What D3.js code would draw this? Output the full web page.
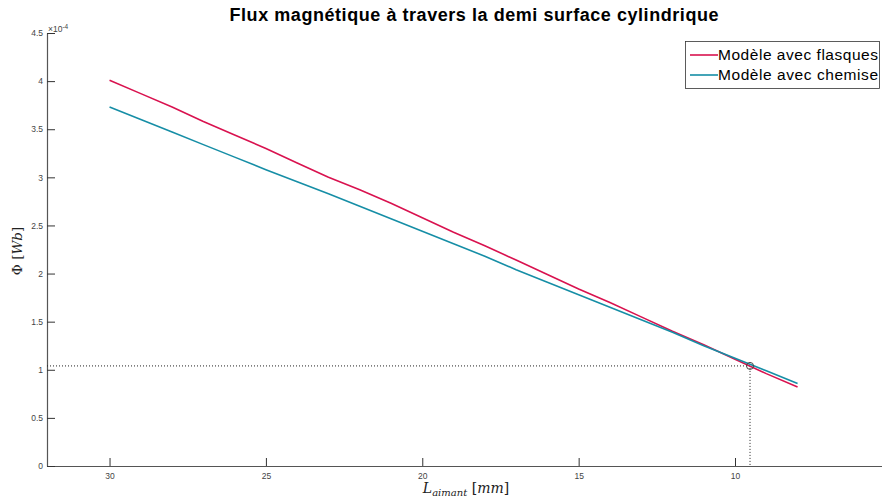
<!DOCTYPE html>
<html>
<head>
<meta charset="utf-8">
<script src="https://cdn.jsdelivr.net/npm/d3@7"></script>
<style>
  html, body { margin: 0; padding: 0; background: #fff; }
  svg { display: block; font-family: "Liberation Sans", Helvetica, Arial, sans-serif; }
</style>
</head>
<body>
<svg id="chart" width="882" height="502"></svg>
<script>
// Magnet length (mm) and magnetic flux (×1e-4 Wb) through the half cylindrical surface
const longueurs = [30, 29, 28, 27, 26, 25, 24, 23, 22, 21, 20, 19, 18, 17, 16, 15, 14, 13, 12, 11, 10, 9, 8];
const fluxFlasques = [4.01, 3.87, 3.73, 3.58, 3.44, 3.30, 3.15, 3.00, 2.87, 2.73, 2.58, 2.43, 2.29, 2.14, 1.99, 1.84, 1.70, 1.55, 1.40, 1.26, 1.11, 0.96, 0.82];
const fluxChemise  = [3.73, 3.60, 3.47, 3.34, 3.21, 3.08, 2.955, 2.83, 2.70, 2.57, 2.44, 2.31, 2.18, 2.04, 1.91, 1.78, 1.65, 1.52, 1.39, 1.25, 1.12, 0.99, 0.857];
const seriesNames = ["Modèle avec flasques", "Modèle avec chemise"];
const seriesColors = ["#d9124f", "#168ea6"];
const xTicks = [30, 25, 20, 15, 10];
const yTicks = [0, 0.5, 1, 1.5, 2, 2.5, 3, 3.5, 4, 4.5];
// Operating point where both models give the same flux
const pointInter = { L: 9.52, phi: 1.04 };

const svg = d3.select("#chart");
const plotLeft = 47, plotRight = 882, plotTop = 33, plotBottom = 466;

// Reversed length axis: 30 mm on the left
const x = d3.scaleLinear().domain([32, 5.3]).range([plotLeft, plotRight]);
const y = d3.scaleLinear().domain([0, 4.5]).range([plotBottom, plotTop]);

const axisColor = "#555";
const tickLabelColor = "#444";

// Axes (ticks drawn inward)
const gx = svg.append("g").attr("transform", `translate(0,${plotBottom})`)
  .call(d3.axisBottom(x).tickValues(xTicks).tickSizeInner(-8).tickSizeOuter(0).tickPadding(7).tickFormat(d3.format("d")));
const gy = svg.append("g").attr("transform", `translate(${plotLeft},0)`)
  .call(d3.axisLeft(y).tickValues(yTicks).tickSizeInner(-8).tickSizeOuter(0).tickPadding(4).tickFormat(d => d3.format("~g")(d)));
[gx, gy].forEach(g => {
  g.select(".domain").attr("stroke", axisColor).attr("stroke-width", 1.2);
  g.selectAll(".tick line").attr("stroke", "#333").attr("stroke-width", 1);
  g.selectAll(".tick text").attr("fill", tickLabelColor).attr("font-size", 8.5)
    .attr("font-family", "'Liberation Sans', Helvetica, Arial, sans-serif");
});

// Exponent marker
const expo = svg.append("text").attr("x", plotLeft + 1).attr("y", y(4.5) - 1)
  .attr("font-size", 8.5).attr("fill", tickLabelColor);
expo.append("tspan").text("×10");
expo.append("tspan").attr("dy", -3.5).attr("font-size", 6.5).text("-4");

// Dotted guides to the operating point
svg.append("path")
  .attr("d", `M${plotLeft},${y(pointInter.phi)}H${x(pointInter.L)}V${plotBottom}`)
  .attr("fill", "none").attr("stroke", "#222").attr("stroke-width", 1)
  .attr("stroke-dasharray", "1,2");

// Series lines
const line = d3.line().x(d => x(d[0])).y(d => y(d[1]));
[fluxFlasques, fluxChemise].forEach((vals, i) => {
  svg.append("path")
    .datum(longueurs.map((L, k) => [L, vals[k]]))
    .attr("d", line)
    .attr("fill", "none")
    .attr("stroke", seriesColors[i])
    .attr("stroke-width", 1.6)
    .attr("stroke-linejoin", "round");
});

// Operating point marker
svg.append("circle")
  .attr("cx", x(pointInter.L)).attr("cy", y(pointInter.phi)).attr("r", 3.5)
  .attr("fill", "none").attr("stroke", "#444").attr("stroke-width", 1);

// Title
svg.append("text").attr("x", 474).attr("y", 21).attr("text-anchor", "middle")
  .attr("font-size", 18).attr("font-weight", "bold").attr("fill", "#000")
  .attr("textLength", 489).attr("lengthAdjust", "spacing")
  .text("Flux magnétique à travers la demi surface cylindrique");

// Axis labels (math style)
const serif = "'DejaVu Serif', 'Liberation Serif', 'Times New Roman', serif";
const xl = svg.append("text").attr("x", 466).attr("y", 493).attr("text-anchor", "middle")
  .attr("font-family", serif).attr("font-size", 14).attr("fill", "#222");
xl.append("tspan").attr("font-style", "italic").text("L");
xl.append("tspan").attr("font-style", "italic").attr("font-size", 10).attr("dy", 3).text("aimant");
xl.append("tspan").attr("dy", -3).text(" [");
xl.append("tspan").attr("font-style", "italic").text("mm");
xl.append("tspan").text("]");

const yl = svg.append("text").attr("transform", "translate(22,251) rotate(-90)")
  .attr("text-anchor", "middle").attr("font-family", serif).attr("font-size", 13.5).attr("fill", "#222");
yl.append("tspan").text("Φ [");
yl.append("tspan").attr("font-style", "italic").text("Wb");
yl.append("tspan").text("]");

// Legend
const lg = svg.append("g");
lg.append("rect").attr("x", 685.5).attr("y", 41.5).attr("width", 194).attr("height", 47)
  .attr("fill", "#fff").attr("stroke", "#333").attr("stroke-width", 0.8);
const legendWidths = [160, 160];
seriesNames.forEach((name, i) => {
  const yy = 55 + i * 20;
  lg.append("line").attr("x1", 690).attr("x2", 718).attr("y1", yy).attr("y2", yy)
    .attr("stroke", seriesColors[i]).attr("stroke-width", 1.6);
  lg.append("text").attr("x", 718).attr("y", yy + 5).attr("font-size", 15.5).attr("fill", "#000")
    .attr("textLength", legendWidths[i]).attr("lengthAdjust", "spacing").text(name);
});
</script>
</body>
</html>
